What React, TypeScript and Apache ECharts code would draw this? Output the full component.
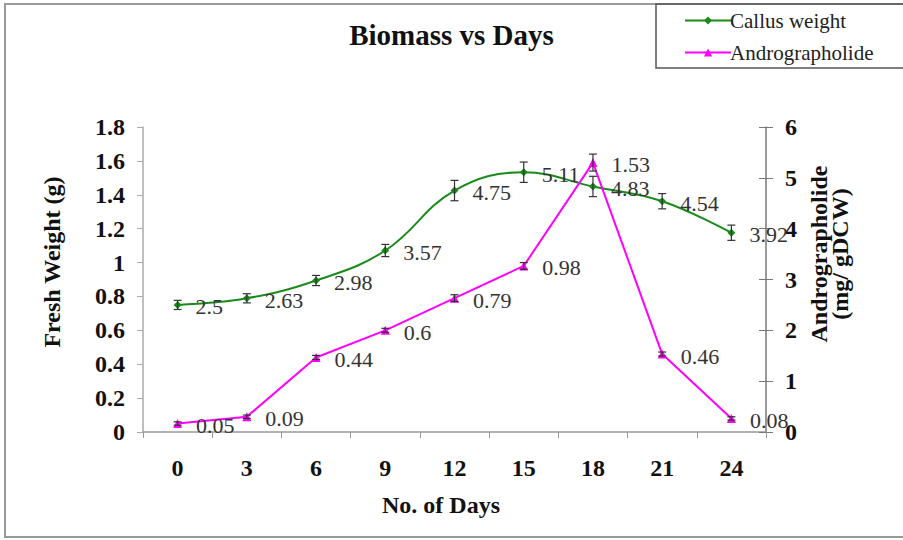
import React, { useEffect, useRef } from "react";
import * as echarts from "echarts";

const days = ["0", "3", "6", "9", "12", "15", "18", "21", "24"];
// Callus weight, plotted against right axis scale (labels shown)
const callusValues = [2.5, 2.63, 2.98, 3.57, 4.75, 5.11, 4.83, 4.54, 3.92];
const callusErrors = [0.09, 0.09, 0.1, 0.12, 0.2, 0.2, 0.2, 0.15, 0.15];
// Andrographolide, plotted against left axis
const androValues = [0.05, 0.09, 0.44, 0.6, 0.79, 0.98, 1.59, 0.46, 0.08];
const androLabels = ["0.05", "0.09", "0.44", "0.6", "0.79", "0.98", "1.53", "0.46", "0.08"];
const androErrors = [0.01, 0.01, 0.012, 0.012, 0.02, 0.02, 0.05, 0.012, 0.01];

const SERIF = "'Liberation Serif', 'DejaVu Serif', serif";

function errRender(params: any, api: any) {
  const x = api.value(0);
  const v = api.value(1);
  const e = api.value(2);
  const top = api.coord([x, v + e]);
  const bot = api.coord([x, v - e]);
  const hw = 4;
  const style = { stroke: "#333", lineWidth: 1.2 };
  return {
    type: "group",
    children: [
      { type: "line", shape: { x1: top[0], y1: top[1], x2: bot[0], y2: bot[1] }, style },
      { type: "line", shape: { x1: top[0] - hw, y1: top[1], x2: top[0] + hw, y2: top[1] }, style },
      { type: "line", shape: { x1: bot[0] - hw, y1: bot[1], x2: bot[0] + hw, y2: bot[1] }, style },
    ],
  };
}

export default function App() {
  const ref = useRef<HTMLDivElement>(null);
  useEffect(() => {
    if (!ref.current) return;
    const chart = echarts.init(ref.current, null, { renderer: "svg" });
    const labelStyle = {
      show: true,
      position: "right",
      distance: 14,
      offset: [0, 2],
      color: "#333",
      fontFamily: SERIF,
      fontSize: 22,
    };
    const axisLabelStyle = {
      color: "#111",
      fontFamily: SERIF,
      fontSize: 24,
      fontWeight: "bold",
    };
    chart.setOption({
      animation: false,
      backgroundColor: "#fff",
      title: {
        text: "Biomass vs Days",
        left: "center",
        top: 15,
        textStyle: { fontFamily: SERIF, fontSize: 29, fontWeight: "bold", color: "#111" },
      },
      legend: {
        orient: "vertical",
        left: 679,
        top: 5,
        itemGap: 11,
        itemWidth: 46,
        itemHeight: 10,
        data: ["Callus weight", "Andrographolide"],
        textStyle: { fontFamily: SERIF, fontSize: 21, color: "#222", padding: [0, 0, 0, -6] },
      },
      grid: { left: 143, right: 137, top: 127, bottom: 108 },
      xAxis: {
        type: "category",
        data: days,
        boundaryGap: true,
        axisLine: { lineStyle: { color: "#999", width: 1.5 } },
        axisTick: { show: true, length: 6, alignWithLabel: false, lineStyle: { color: "#999" } },
        axisLabel: { ...axisLabelStyle, margin: 24 },
        splitLine: { show: false },
      },
      yAxis: [
        {
          type: "value",
          min: 0,
          max: 1.8,
          interval: 0.2,
          position: "left",
          axisLine: { show: true, lineStyle: { color: "#aaa", width: 1.5 } },
          axisTick: { show: true, length: 6, lineStyle: { color: "#aaa" } },
          axisLabel: { ...axisLabelStyle, margin: 18 },
          splitLine: { show: false },
        },
        {
          type: "value",
          min: 0,
          max: 6,
          interval: 1,
          position: "right",
          axisLine: { show: true, lineStyle: { color: "#777", width: 1.5 } },
          axisTick: { show: true, length: 7, lineStyle: { color: "#777" } },
          axisLabel: { ...axisLabelStyle, margin: 19 },
          splitLine: { show: false },
        },
        {
          type: "value",
          min: 0,
          max: 6,
          interval: 1,
          position: "right",
          axisLine: { show: false },
          axisTick: { show: true, inside: true, length: 7, lineStyle: { color: "#777" } },
          axisLabel: { show: false },
          splitLine: { show: false },
        },
      ],
      series: [
        {
          name: "Callus weight",
          type: "line",
          yAxisIndex: 1,
          data: callusValues,
          smooth: 0.4,
          symbol: "diamond",
          symbolSize: 8,
          color: "#1a8a1a",
          lineStyle: { width: 2, color: "#1a8a1a" },
          itemStyle: { color: "#1a8a1a" },
          label: labelStyle,
          z: 3,
        },
        {
          name: "Andrographolide",
          type: "line",
          yAxisIndex: 0,
          data: androValues,
          symbol: "triangle",
          symbolSize: 9,
          color: "#ff00ff",
          lineStyle: { width: 2, color: "#ff00ff" },
          itemStyle: { color: "#ff00ff" },
          label: {
            ...labelStyle,
            formatter: (p: any) => androLabels[p.dataIndex],
          },
          z: 3,
        },
        {
          type: "custom",
          yAxisIndex: 1,
          renderItem: errRender,
          data: callusValues.map((v, i) => [i, v, callusErrors[i]]),
          z: 4,
          silent: true,
        },
        {
          type: "custom",
          yAxisIndex: 0,
          renderItem: errRender,
          data: androValues.map((v, i) => [i, v, androErrors[i]]),
          z: 4,
          silent: true,
        },
      ],
      graphic: [
        {
          type: "rect",
          shape: { x: 5, y: 4, width: 920, height: 533 },
          style: { fill: "none", stroke: "#999", lineWidth: 2 },
          silent: true,
        },
        {
          type: "rect",
          shape: { x: 656, y: 4, width: 260, height: 64 },
          style: { fill: "none", stroke: "#555", lineWidth: 1.5 },
          silent: true,
        },
        {
          type: "text",
          x: 52,
          y: 262,
          rotation: Math.PI / 2,
          style: {
            text: "Fresh Weight (g)",
            fontFamily: SERIF,
            fontSize: 24,
            fontWeight: "bold",
            fill: "#111",
            textAlign: "center",
            textVerticalAlign: "middle",
          },
        },
        {
          type: "text",
          x: 829,
          y: 254,
          rotation: Math.PI / 2,
          style: {
            text: "Andrographolide\n(mg/ gDCW)",
            fontFamily: SERIF,
            fontSize: 24,
            fontWeight: "bold",
            fill: "#111",
            textAlign: "center",
            textVerticalAlign: "middle",
            lineHeight: 21,
          },
        },
        {
          type: "text",
          x: 441,
          y: 505,
          style: {
            text: "No. of Days",
            fontFamily: SERIF,
            fontSize: 24,
            fontWeight: "bold",
            fill: "#111",
            textAlign: "center",
            textVerticalAlign: "middle",
          },
        },
      ],
    });
    return () => chart.dispose();
  }, []);
  return (
    <div
      ref={ref}
      style={{ position: "fixed", left: 0, top: 0, width: 903, height: 540 }}
    />
  );
}
